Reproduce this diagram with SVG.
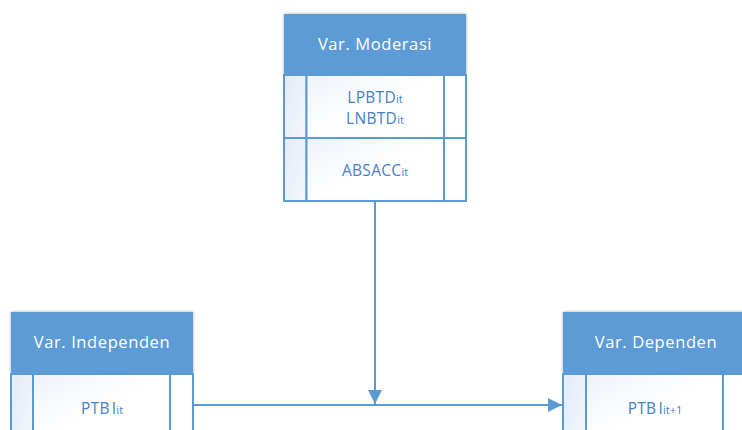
<svg xmlns="http://www.w3.org/2000/svg" width="742" height="430" viewBox="0 0 742 430">
  <style>
    .head { fill: #5b9bd5; }
    .head-text { fill: #ffffff; font-family: "Open Sans", "Liberation Sans", sans-serif; font-size: 16.5px; letter-spacing: 0.6px; text-anchor: middle; }
    .row { fill: url(#rowFill); stroke: #5b9bd5; stroke-width: 2; }
    .side { fill: url(#sideFill); stroke: #5b9bd5; stroke-width: 2; }
    .cell-text { fill: #4a80c2; font-family: "Open Sans", "Liberation Sans", sans-serif; font-size: 15.5px; letter-spacing: 0.3px; text-anchor: middle; }
    .sub { font-size: 11px; letter-spacing: 0; }
    .link { stroke: #5b9bd5; stroke-width: 2; fill: none; }
  </style>
  <defs>
    <linearGradient id="rowFill" x1="0" y1="0" x2="1" y2="1">
      <stop offset="0" stop-color="#eef3fa"/>
      <stop offset="0.5" stop-color="#ffffff"/>
      <stop offset="1" stop-color="#ffffff"/>
    </linearGradient>
    <linearGradient id="sideFill" x1="0" y1="0" x2="1" y2="1">
      <stop offset="0" stop-color="#e4ebf6"/>
      <stop offset="1" stop-color="#f4f7fc"/>
    </linearGradient>
    <filter id="shadow" x="-10%" y="-20%" width="120%" height="140%">
      <feGaussianBlur in="SourceAlpha" stdDeviation="1.5"/>
      <feComponentTransfer><feFuncA type="linear" slope="0.35"/></feComponentTransfer>
      <feMerge><feMergeNode/><feMergeNode in="SourceGraphic"/></feMerge>
    </filter>
    <marker id="arrow" viewBox="0 0 10 10" refX="10" refY="5" markerWidth="15" markerHeight="14" markerUnits="userSpaceOnUse" orient="auto">
      <path d="M0,0 L10,5 L0,10 Z" fill="#5b9bd5"/>
    </marker>
  </defs>

  <!-- Moderating variable table -->
  <g id="moderasi">
    <rect class="head" x="284" y="14" width="182" height="61" filter="url(#shadow)"/>
    <text class="head-text" x="375" y="50">Var. Moderasi</text>
    <rect class="row" x="284" y="75" width="182" height="63"/>
    <rect class="side" x="284" y="75" width="22.5" height="63"/>
    <rect class="row" x="306.5" y="75" width="137.5" height="63"/>
    <rect class="row" x="444" y="75" width="22" height="63" style="fill:#ffffff"/>
    <text class="cell-text" x="375" y="103">LPBTD<tspan class="sub">it</tspan></text>
    <text class="cell-text" x="375" y="124">LNBTD<tspan class="sub">it</tspan></text>
    <rect class="row" x="284" y="138" width="182" height="63"/>
    <rect class="side" x="284" y="138" width="22.5" height="63"/>
    <rect class="row" x="306.5" y="138" width="137.5" height="63"/>
    <rect class="row" x="444" y="138" width="22" height="63" style="fill:#ffffff"/>
    <text class="cell-text" x="375" y="176">ABSACC<tspan class="sub">it</tspan></text>
  </g>

  <!-- Independent variable table -->
  <g id="independen">
    <rect class="head" x="11" y="312" width="182" height="62" filter="url(#shadow)"/>
    <text class="head-text" x="102" y="348">Var. Independen</text>
    <rect class="side" x="11" y="374" width="22" height="70"/>
    <rect class="row" x="33" y="374" width="137" height="70"/>
    <rect class="row" x="170" y="374" width="23" height="70" style="fill:#ffffff"/>
    <text class="cell-text" x="102" y="414">PTB<tspan dx="2">I</tspan><tspan class="sub">it</tspan></text>
  </g>

  <!-- Dependent variable table -->
  <g id="dependen">
    <rect class="head" x="563" y="312" width="190" height="62" filter="url(#shadow)"/>
    <text class="head-text" x="656" y="348">Var. Dependen</text>
    <rect class="side" x="563" y="374" width="23" height="70"/>
    <rect class="row" x="586" y="374" width="137" height="70"/>
    <rect class="row" x="723" y="374" width="30" height="70" style="fill:#ffffff"/>
    <text class="cell-text" x="655" y="414">PTB<tspan dx="2">I</tspan><tspan class="sub">it+1</tspan></text>
  </g>

  <!-- Connectors -->
  <g id="connectors">
    <line class="link" x1="375" y1="202" x2="375" y2="404" marker-end="url(#arrow)"/>
    <line class="link" x1="193" y1="405" x2="562" y2="405" marker-end="url(#arrow)"/>
  </g>
</svg>
